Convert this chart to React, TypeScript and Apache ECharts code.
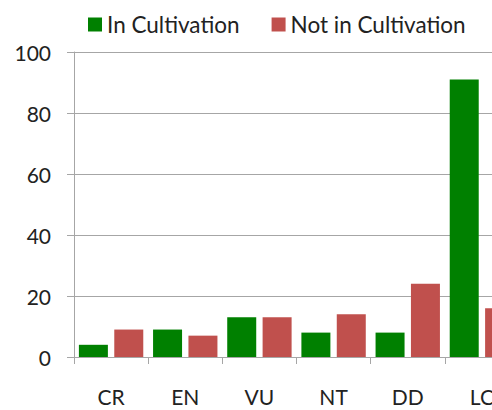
import React, { useEffect, useRef } from "react";
import * as echarts from "echarts";

const categories = ["CR", "EN", "VU", "NT", "DD", "LC"];
const inCultivation = [4, 9, 13, 8, 8, 91];
const notInCultivation = [9, 7, 13, 14, 24, 16];
const yTicks = { min: 0, max: 100, interval: 20 };

export default function App() {
  const ref = useRef<HTMLDivElement>(null);
  useEffect(() => {
    if (!ref.current) return;
    const chart = echarts.init(ref.current, null, { renderer: "svg" });
    const font = "Lato, 'Open Sans', sans-serif";
    chart.setOption({
      animation: false,
      backgroundColor: "#ffffff",
      textStyle: { fontFamily: font },
      legend: {
        left: 83,
        top: 8,
        itemWidth: 14,
        itemHeight: 14,
        itemGap: 32,
        icon: "rect",
        textStyle: { fontSize: 22.5, color: "#222", fontFamily: font },
        data: ["In Cultivation", "Not in Cultivation"],
      },
      grid: { left: 74, right: 41, top: 52, bottom: 53 },
      xAxis: {
        type: "category",
        data: categories,
        axisLine: { lineStyle: { color: "#a6a6a6", width: 1 } },
        axisTick: { show: true, length: 7, lineStyle: { color: "#a6a6a6" } },
        axisLabel: { fontSize: 21, color: "#222", margin: 29, fontFamily: font },
      },
      yAxis: {
        type: "value",
        min: yTicks.min,
        max: yTicks.max,
        interval: yTicks.interval,
        axisLine: { show: true, lineStyle: { color: "#a6a6a6", width: 1 } },
        axisTick: { show: true, length: 7, lineStyle: { color: "#a6a6a6" } },
        splitLine: { lineStyle: { color: "#a6a6a6", width: 1 } },
        axisLabel: { fontSize: 21, color: "#222", margin: 23, fontFamily: font },
      },
      series: [
        {
          name: "In Cultivation",
          type: "bar",
          data: inCultivation,
          itemStyle: { color: "#008000" },
          barWidth: 29,
          barGap: "22%",
        },
        {
          name: "Not in Cultivation",
          type: "bar",
          data: notInCultivation,
          itemStyle: { color: "#C0504D" },
          barWidth: 29,
          barGap: "22%",
        },
      ],
    });
    return () => chart.dispose();
  }, []);
  return (
    <div
      style={{
        position: "fixed",
        left: 0,
        top: 0,
        width: 492,
        height: 410,
        overflow: "hidden",
        background: "#fff",
      }}
    >
      <div ref={ref} style={{ width: 560, height: 410 }} />
    </div>
  );
}
